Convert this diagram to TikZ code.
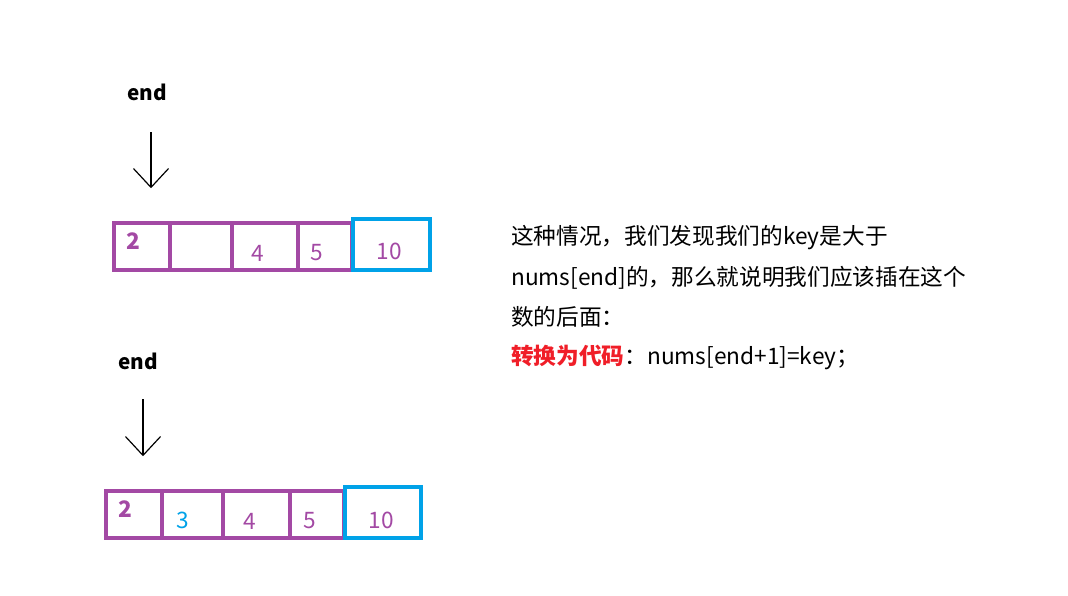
\documentclass[tikz,border=0pt]{standalone}
\usepackage{fontspec}
\setmainfont{Noto Sans CJK SC}
\usepackage{tikz}
\usetikzlibrary{arrows.meta,positioning}
\definecolor{cellpurple}{HTML}{A349A4}
\definecolor{cellblue}{HTML}{00A2E8}
\definecolor{keyred}{HTML}{F01E28}
\definecolor{ink}{HTML}{000000}
\tikzset{
  arraybox/.style={draw=cellpurple,line width=3pt},
  lastbox/.style={draw=cellblue,line width=3pt},
  divider/.style={draw=cellpurple,line width=3pt},
  endlabel/.style={font=\fontsize{15.5}{18}\selectfont\bfseries,text=ink},
  cellnum/.style={font=\fontsize{17}{20}\selectfont,text=cellpurple,inner sep=0pt},
  firstnum/.style={font=\fontsize{17}{20}\selectfont\bfseries,text=cellpurple,inner sep=0pt},
  newnum/.style={font=\fontsize{17}{20}\selectfont,text=cellblue,inner sep=0pt},
  ptrarr/.style={-{Straight Barb[length=14pt,width=26pt,round]},line width=0.9pt,color=ink},
  notetext/.style={font=\fontsize{17}{20}\selectfont,anchor=west,inner sep=0pt}
}
\begin{document}
\begin{tikzpicture}[x=0.75pt,y=-0.75pt]
  \useasboundingbox (0,0) rectangle (1068,596);

  % top: before insertion
  \node[endlabel] (endA) at (147,92) {end};
  \coordinate (tailA) at (151,132);
  \coordinate (headA) at (151,188);
  \draw[ptrarr] (tailA) -- (headA);

  \draw[arraybox] (114,223) rectangle (352,270);
  \foreach \x in {170,232,298} {
    \draw[divider] (\x,223) -- (\x,272);
  }
  \draw[lastbox] (353,219) rectangle (430,270);
  \node[firstnum] (a1) at (133,241) {2};
  \node[cellnum] (a3) at (258,253) {4};
  \node[cellnum] (a4) at (317,253) {5};
  \node[cellnum] (a5) at (389,251) {10};

  % bottom: after insertion
  \node[endlabel] (endB) at (138,361) {end};
  \coordinate (tailB) at (143,399);
  \coordinate (headB) at (143,456);
  \draw[ptrarr] (tailB) -- (headB);

  \draw[arraybox] (106,491) rectangle (344,538);
  \foreach \x in {162,223,290} {
    \draw[divider] (\x,491) -- (\x,540);
  }
  \draw[lastbox] (345,487) rectangle (421,538);
  \node[firstnum] (b1) at (125,509) {2};
  \node[newnum] (b2) at (183,520) {3};
  \node[cellnum] (b3) at (250,521) {4};
  \node[cellnum] (b4) at (310,521) {5};
  \node[cellnum] (b5) at (381,520) {10};

  % explanation
  \node[notetext] (line1) at (511,238) {这种情况，我们发现我们的key是大于};
  \node[notetext] (line2) at (511,278) {nums[end]的，那么就说明我们应该插在这个};
  \node[notetext] (line3) at (511,317) {数的后面：};
  \node[notetext] (line4) at (511,357) {{\bfseries\color{keyred}转换为代码}：nums[end+1]=key；};
\end{tikzpicture}
\end{document}
